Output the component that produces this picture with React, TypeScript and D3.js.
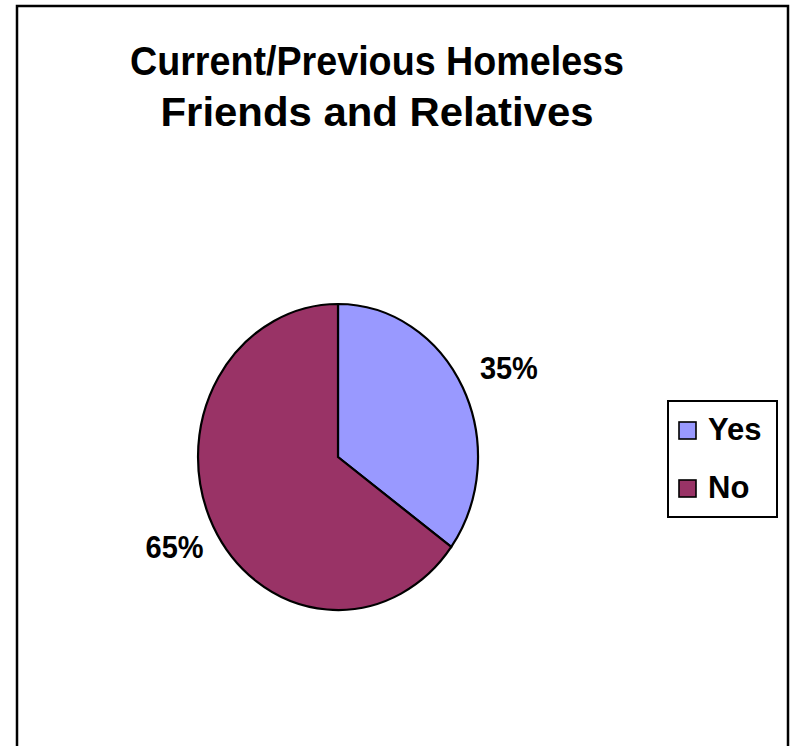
import React from "react";
import * as d3 from "d3";

const categories = ["Yes", "No"];
const values = [35, 65];
const colors = ["#9999FF", "#993366"];
const titleLines = ["Current/Previous Homeless", "Friends and Relatives"];

export default function App() {
  const W = 794, H = 746;
  const cx = 338, cy = 457, rx = 140, ry = 153;
  const pie = d3.pie<number>().sort(null).value((d) => d);
  const arcs = pie(values);
  const arc = d3.arc<d3.PieArcDatum<number>>().innerRadius(0).outerRadius(1);
  const total = d3.sum(values);
  const fmt = (v: number) => `${Math.round((v / total) * 100)}%`;
  const font = "'Liberation Sans', Arial, sans-serif";
  const ky = 1.29;
  return (
    <svg width={W} height={H} style={{ position: "absolute", left: 0, top: 0, background: "#fff" }}>
      <rect x={17} y={6} width={771} height={760} fill="#fff" stroke="#000" strokeWidth={2.5} />
      {titleLines.map((t, i) => (
        <text key={t} x={377} y={75 + i * 51} textAnchor="middle" fontFamily={font} fontWeight="bold"
          fontSize={41} textLength={i === 0 ? 494 : 433} lengthAdjust="spacingAndGlyphs">{t}</text>
      ))}
      <g transform={`translate(${cx},${cy}) scale(${rx},${ry})`}>
        {arcs.map((a, i) => (
          <path key={i} d={arc(a) || ""} fill={colors[i]} stroke="#000" strokeWidth={2.2}
            vectorEffect="non-scaling-stroke" strokeLinejoin="miter" />
        ))}
      </g>
      {arcs.map((a, i) => {
        const m = (a.startAngle + a.endAngle) / 2;
        const kx = Math.sin(m) > 0 ? 1.37 : 1.31;
        const x = cx + rx * kx * Math.sin(m);
        const y = cy - ry * ky * Math.cos(m);
        return (
          <text key={i} x={x} y={y} dy="0.36em" textAnchor="middle" fontFamily={font} fontWeight="bold" fontSize={31}
            textLength={58} lengthAdjust="spacingAndGlyphs">
            {fmt(a.data)}
          </text>
        );
      })}
      <rect x={668} y={401} width={109} height={116} fill="#fff" stroke="#000" strokeWidth={2} />
      {categories.map((c, i) => (
        <g key={c} transform={`translate(679,${422 + i * 58})`}>
          <rect x={0} y={0} width={17} height={17} fill={colors[i]} stroke="#000" strokeWidth={1.6} />
          <text x={29} y={18} fontFamily={font} fontWeight="bold" fontSize={31}>{c}</text>
        </g>
      ))}
    </svg>
  );
}
